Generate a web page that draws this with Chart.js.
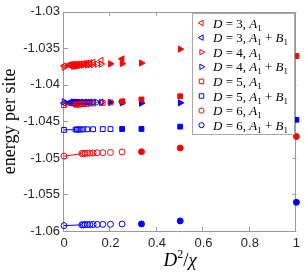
<!DOCTYPE html>
<html>
<head>
<meta charset="utf-8">
<script src="https://cdn.jsdelivr.net/npm/chart.js@4"></script>
<style>
  html, body { margin: 0; padding: 0; background: #fff; }
  canvas { display: block; }
</style>
</head>
<body>
<canvas id="chart" width="305" height="272"></canvas>
<script>
// axis ticks
const xTicks = [0, 0.2, 0.4, 0.6, 0.8, 1];
const yTicks = [-1.06, -1.055, -1.05, -1.045, -1.04, -1.035, -1.03];

// D^2/chi positions per bond dimension (open = large chi, filled = small chi)
const d3OpenX = [0.02, 0.025, 0.03, 0.035, 0.04, 0.045, 0.05, 0.06, 0.07, 0.08, 0.09, 0.1, 0.11, 0.125, 0.16];
const d3FillX = [0.25];
const d4OpenX = [0.04, 0.045, 0.05, 0.0556, 0.0625, 0.0714, 0.0833, 0.1, 0.111, 0.125, 0.143, 0.16];
const d4FillX = [0.2, 0.25, 0.333, 0.5];
const d5OpenX = [0.05, 0.0556, 0.0625, 0.0714, 0.0833, 0.1, 0.125, 0.1667, 0.2];
const d5FillX = [0.25, 0.3333, 0.5, 1];
const d6OpenX = [0.0769, 0.0833, 0.0909, 0.1, 0.1111, 0.125, 0.1429, 0.1667, 0.2, 0.25];
const d6FillX = [0.3333, 0.5, 1];

// energies per site
const d3A1Open = [-1.03728, -1.03727, -1.03725, -1.03724, -1.03722, -1.0372, -1.03718, -1.03715, -1.03712, -1.0371, -1.03706, -1.03702, -1.03697, -1.0369, -1.03665];
const d3A1Fill = [-1.03645];
const d3A1Zero = -1.0374;
const d3ABOpen = [-1.04246, -1.04245, -1.04245, -1.04244, -1.04244, -1.04243, -1.04243, -1.04242, -1.04241, -1.04241, -1.0424, -1.04239, -1.04238, -1.04237, -1.04235];
const d3ABFill = [-1.04232];
const d3ABZero = -1.0425;

const d4A1Open = [-1.03745, -1.03744, -1.03742, -1.0374, -1.03738, -1.03735, -1.03732, -1.03728, -1.03725, -1.03722, -1.03718, -1.03715];
const d4A1Fill = [-1.03712, -1.0371, -1.03702, -1.03511];
const d4A1Zero = -1.0376;
const d4ABOpen = [-1.04236, -1.04236, -1.04237, -1.04237, -1.04237, -1.04238, -1.04238, -1.04238, -1.04239, -1.04239, -1.0424, -1.0424];
const d4ABFill = [-1.0424, -1.04245, -1.0425, -1.04246];
const d4ABZero = -1.0423;

const d5A1Open = [-1.0427, -1.0427, -1.04268, -1.04266, -1.04263, -1.0426, -1.04255, -1.04248, -1.0424];
const d5A1Fill = [-1.04227, -1.042, -1.04156, -1.03605];
const d5A1Zero = -1.04278;
const d5ABOpen = [-1.04612, -1.04611, -1.0461, -1.0461, -1.04609, -1.04608, -1.04607, -1.04606, -1.04605];
const d5ABFill = [-1.04604, -1.04603, -1.04572, -1.04478];
const d5ABZero = -1.04617;

const d6A1Open = [-1.0494, -1.04938, -1.04937, -1.04935, -1.04934, -1.04932, -1.0493, -1.04928, -1.04925, -1.0492];
const d6A1Fill = [-1.04915, -1.04864, -1.04707];
const d6A1Zero = -1.04976;
const d6ABOpen = [-1.05916, -1.05915, -1.05914, -1.05913, -1.05912, -1.05911, -1.0591, -1.05909, -1.05907, -1.05905];
const d6ABFill = [-1.05903, -1.05862, -1.05607];
const d6ABZero = -1.05926;

const RED = '#ff0000';
const BLUE = '#0000ff';
const AXIS = '#9a9a9a';
const TEXT = '#262626';

const series = [
  { d: 3, ab: false, color: RED,  style: 'triangle', rot: -90, ox: d3OpenX, oy: d3A1Open, fx: d3FillX, fy: d3A1Fill, zero: d3A1Zero },
  { d: 3, ab: true,  color: BLUE, style: 'triangle', rot: -90, ox: d3OpenX, oy: d3ABOpen, fx: d3FillX, fy: d3ABFill, zero: d3ABZero },
  { d: 4, ab: false, color: RED,  style: 'triangle', rot: 90,  ox: d4OpenX, oy: d4A1Open, fx: d4FillX, fy: d4A1Fill, zero: d4A1Zero },
  { d: 4, ab: true,  color: BLUE, style: 'triangle', rot: 90,  ox: d4OpenX, oy: d4ABOpen, fx: d4FillX, fy: d4ABFill, zero: d4ABZero },
  { d: 5, ab: false, color: RED,  style: 'rect',     rot: 0,   ox: d5OpenX, oy: d5A1Open, fx: d5FillX, fy: d5A1Fill, zero: d5A1Zero },
  { d: 5, ab: true,  color: BLUE, style: 'rect',     rot: 0,   ox: d5OpenX, oy: d5ABOpen, fx: d5FillX, fy: d5ABFill, zero: d5ABZero },
  { d: 6, ab: false, color: RED,  style: 'circle',   rot: 0,   ox: d6OpenX, oy: d6A1Open, fx: d6FillX, fy: d6A1Fill, zero: d6A1Zero },
  { d: 6, ab: true,  color: BLUE, style: 'circle',   rot: 0,   ox: d6OpenX, oy: d6ABOpen, fx: d6FillX, fy: d6ABFill, zero: d6ABZero }
];

const radiusFor = { triangle: 3.6, rect: 3.4, circle: 3 };

// later series drawn on top, like the original plot order
const datasets = [];
series.forEach((s, i) => {
  const r = radiusFor[s.style];
  const base = { pointStyle: s.style, rotation: s.rot, borderColor: s.color, borderWidth: 1, pointRadius: r, clip: false, order: 100 - i * 3 };
  datasets.push(Object.assign({}, base, {
    data: [{ x: 0, y: s.zero }].concat(s.ox.map((x, k) => ({ x: x, y: s.oy[k] }))),
    backgroundColor: 'rgba(0,0,0,0)', showLine: false
  }));
  datasets.push(Object.assign({}, base, {
    data: s.fx.map((x, k) => ({ x: x, y: s.fy[k] })),
    backgroundColor: s.color, pointBackgroundColor: s.color, showLine: false, order: 100 - i * 3 - 1
  }));
  datasets.push({
    data: [{ x: 0, y: s.zero }, { x: s.ox[0], y: s.oy[0] }],
    showLine: true, borderColor: s.color, borderWidth: 1, pointRadius: 0, fill: false, clip: false, order: 100 - i * 3 - 2
  });
});

function fmt(v) { return String(Number(v.toFixed(3))); }

const tickFont = { family: '"Liberation Sans", Arial, sans-serif', size: 13 };

const framePlugin = {
  id: 'frame',
  beforeDatasetsDraw(chart) {
    const { ctx, chartArea: a, scales } = chart;
    ctx.save();
    ctx.strokeStyle = AXIS;
    ctx.lineWidth = 1;
    ctx.strokeRect(Math.round(a.left) - 0.5, Math.round(a.top) + 0.5, Math.round(a.right - a.left), Math.round(a.bottom - a.top));
    ctx.beginPath();
    xTicks.forEach(v => {
      const px = Math.round(scales.x.getPixelForValue(v)) - 0.5;
      ctx.moveTo(px, a.bottom); ctx.lineTo(px, a.bottom - 4);
      ctx.moveTo(px, a.top); ctx.lineTo(px, a.top + 4);
    });
    yTicks.forEach(v => {
      const py = Math.round(scales.y.getPixelForValue(v)) + 0.5;
      ctx.moveTo(a.left, py); ctx.lineTo(a.left + 4, py);
      ctx.moveTo(a.right, py); ctx.lineTo(a.right - 4, py);
    });
    ctx.stroke();
    ctx.restore();
  }
};

function marker(ctx, style, rot, x, y, r, color) {
  ctx.beginPath();
  if (style === 'circle') {
    ctx.arc(x, y, r, 0, Math.PI * 2);
  } else if (style === 'rect') {
    const h = r * Math.SQRT1_2;
    ctx.rect(x - h, y - h, 2 * h, 2 * h);
  } else {
    let rad = rot * Math.PI / 180;
    ctx.moveTo(x + Math.sin(rad) * r, y - Math.cos(rad) * r);
    rad += 2 * Math.PI / 3;
    ctx.lineTo(x + Math.sin(rad) * r, y - Math.cos(rad) * r);
    rad += 2 * Math.PI / 3;
    ctx.lineTo(x + Math.sin(rad) * r, y - Math.cos(rad) * r);
    ctx.closePath();
  }
  ctx.strokeStyle = color;
  ctx.lineWidth = 1;
  ctx.stroke();
}

// draws a run of [text, font, dy] pieces starting at x
function drawParts(ctx, parts, x, y) {
  parts.forEach(p => {
    ctx.font = p[1];
    ctx.fillText(p[0], x, y + (p[2] || 0));
    x += ctx.measureText(p[0]).width;
  });
  return x;
}

function partsWidth(ctx, parts) {
  let w = 0;
  parts.forEach(p => { ctx.font = p[1]; w += ctx.measureText(p[0]).width; });
  return w;
}

const SERIF = '"Liberation Serif", "Times New Roman", serif';

const legendPlugin = {
  id: 'mathLegend',
  afterDraw(chart) {
    const ctx = chart.ctx;
    const box = { x: 192.5, y: 13.5, w: 102, h: 121 };
    ctx.save();
    ctx.fillStyle = '#fff';
    ctx.fillRect(box.x, box.y, box.w, box.h);
    ctx.strokeStyle = '#a8a8a8';
    ctx.lineWidth = 1;
    ctx.strokeRect(box.x, box.y, box.w, box.h);
    const it = 'italic 13px ' + SERIF, rm = '13px ' + SERIF, sub = '9px ' + SERIF;
    series.forEach((s, i) => {
      const cy = 23 + i * 14.6;
      marker(ctx, s.style, s.rot, 201.5, cy, s.style === 'circle' ? 2.6 : 3.2, s.color);
      const parts = [['D', it], [' = ' + s.d + ', ', rm], ['A', it], ['1', sub, 3]];
      if (s.ab) parts.push([' + ', rm], ['B', it], ['1', sub, 3]);
      ctx.fillStyle = '#000';
      ctx.textBaseline = 'alphabetic';
      drawParts(ctx, parts, 213, cy + 4.5);
    });

    // axis titles
    ctx.fillStyle = '#000';
    const xt = [['D', 'italic 19px ' + SERIF], ['2', '12px ' + SERIF, -8], ['/', '19px ' + SERIF], ['\u03c7', 'italic 19px ' + SERIF]];
    const w = partsWidth(ctx, xt);
    const a = chart.chartArea;
    drawParts(ctx, xt, (a.left + a.right) / 2 - w / 2, 266);

    ctx.translate(15, (a.top + a.bottom) / 2);
    ctx.rotate(-Math.PI / 2);
    ctx.font = '18px ' + SERIF;
    ctx.textAlign = 'center';
    ctx.fillText('energy per site', 0, 0);
    ctx.restore();
  }
};

new Chart(document.getElementById('chart'), {
  type: 'scatter',
  data: { datasets: datasets },
  options: {
    responsive: false,
    animation: false,
    devicePixelRatio: 1,
    layout: { padding: { left: 0, right: 6, top: 8, bottom: 0 } },
    plugins: { legend: { display: false }, tooltip: { enabled: false } },
    scales: {
      x: {
        type: 'linear', min: 0, max: 1,
        afterBuildTicks: s => { s.ticks = xTicks.map(v => ({ value: v })); },
        afterFit: s => { s.height = 41; },
        grid: { display: false, drawTicks: false },
        border: { display: false },
        ticks: { font: tickFont, color: TEXT, padding: 5, maxRotation: 0, autoSkip: false, callback: v => fmt(v) }
      },
      y: {
        type: 'linear', min: -1.06, max: -1.03,
        afterBuildTicks: s => { s.ticks = yTicks.map(v => ({ value: v })); },
        afterFit: s => { s.width = 64; },
        grid: { display: false, drawTicks: false },
        border: { display: false },
        ticks: { font: tickFont, color: TEXT, padding: 4, autoSkip: false, callback: v => fmt(v) }
      }
    }
  },
  plugins: [framePlugin, legendPlugin]
});
</script>
</body>
</html>
